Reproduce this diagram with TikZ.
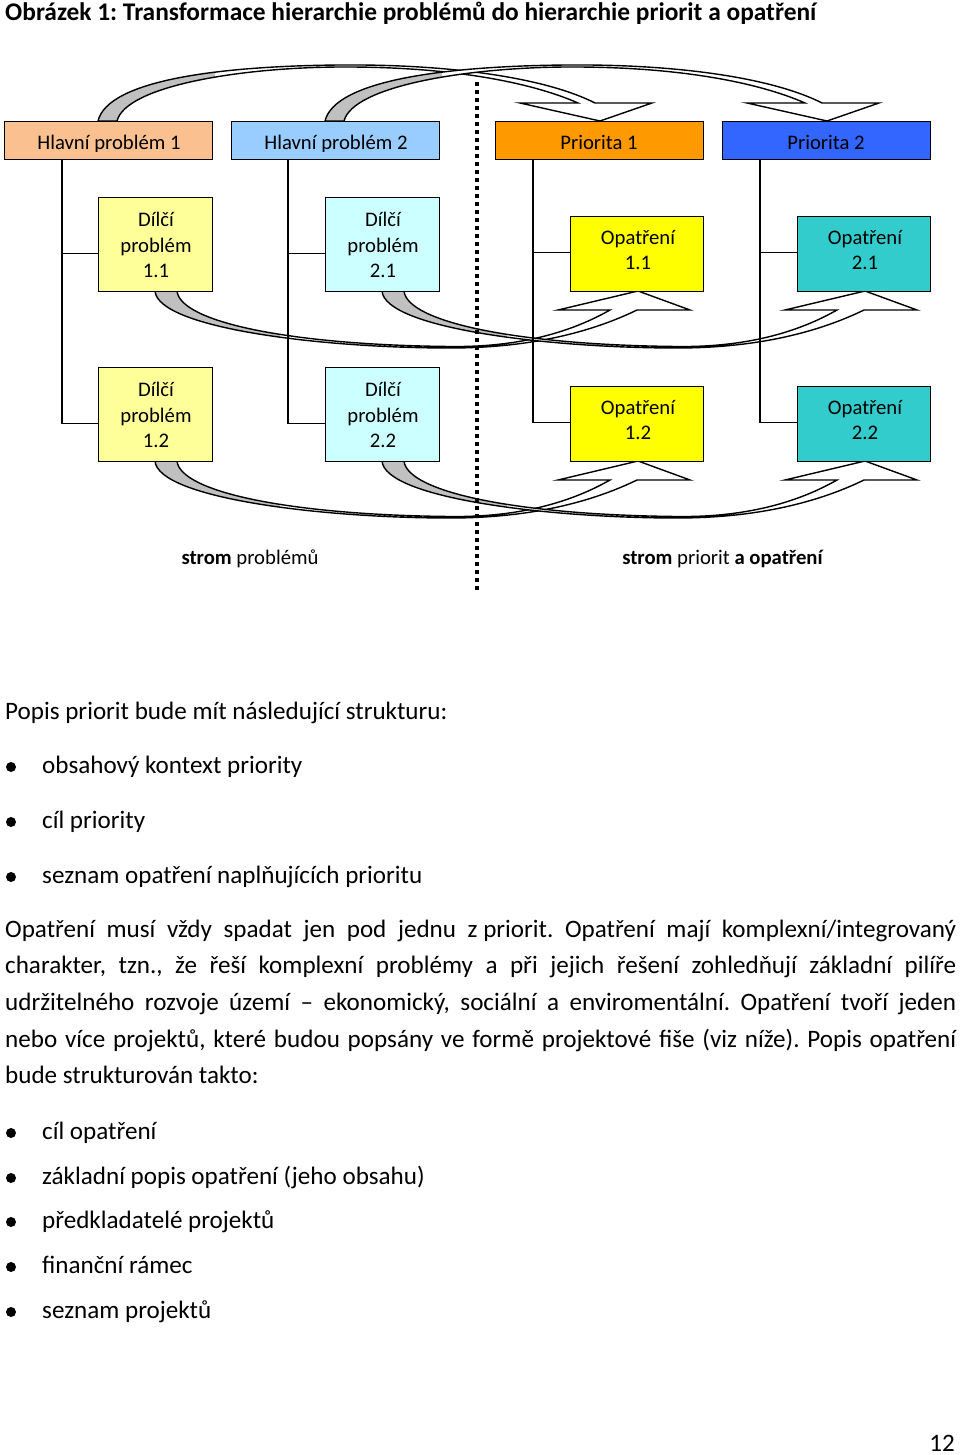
\documentclass[tikz,border=0pt]{standalone}
\usepackage{fontspec}
\setmainfont{Carlito}
\usetikzlibrary{calc}
\frenchspacing
\definecolor{peach}{HTML}{FAC08F}
\definecolor{lblue}{HTML}{99CCFF}
\definecolor{orng}{HTML}{FF9900}
\definecolor{blu}{HTML}{3366FF}
\definecolor{lyel}{HTML}{FFFF99}
\definecolor{lcyan}{HTML}{CCFFFF}
\definecolor{yel}{HTML}{FFFF00}
\definecolor{tealc}{HTML}{33CCCC}
\definecolor{ribgray}{HTML}{C0C0C0}
\newcommand\ribTop{(98,121) .. controls (108,80) and (220,66) .. (340,65) .. controls (460,64) and (550,80) .. (595,103) -- (652,103) -- (600,121) -- (520,103) -- (578,103) .. controls (530,82) and (450,66.5) .. (340,67) .. controls (240,67.5) and (126,86) .. (117,121) -- cycle}
\newcommand\ribBot{(155,291) .. controls (158,328) and (320,348) .. (450,348) .. controls (540,348) and (600,328) .. (637,310) -- (690,310) -- (638,291) -- (558,310) -- (610,310) .. controls (580,327) and (530,347.5) .. (450,346.5) .. controls (290,345) and (180,322) .. (177,291) -- cycle}
\begin{document}
\begin{tikzpicture}[x=1pt,y=-1pt,
  box/.style={draw=black, line width=1.2pt, inner sep=0pt, anchor=north west},
  conn/.style={draw=black, line width=1.3pt},
  rib/.style={draw=black, line width=1.4pt, line join=miter},
  small/.style={font=\fontsize{20.7}{25.5}\selectfont, inner sep=0pt, align=center},
  body/.style={font=\fontsize{25.1}{36.7}\selectfont, inner sep=0pt, anchor=base west},
  bulletdot/.style={circle, fill=black, inner sep=0pt, minimum size=10pt}]
\useasboundingbox (0,0) rectangle (960,1455);
\fill[white] (0,0) rectangle (960,1455);

% title
\node[body, font=\fontsize{25.4}{30}\selectfont\bfseries] (title) at (5,21) {Obrázek 1: Transformace hierarchie problémů do hierarchie priorit a opatření};

% ---- curved block arrows (top)
\foreach \dx in {0,227}{
\begin{scope}[xshift=\dx pt]
  \fill[white] \ribTop;
  \begin{scope}
    \clip (0,0) rectangle (215,125);
    \fill[ribgray] \ribTop;
  \end{scope}
  \draw[rib] \ribTop;
\end{scope}
}
% ---- curved block arrows (rows 2 and 3)
\foreach \dy in {0,-170}{
\foreach \dx in {0,227}{
\begin{scope}[xshift=\dx pt, yshift=\dy pt]
  \fill[white] \ribBot;
  \begin{scope}
    \clip (0,280) rectangle (280,360);
    \fill[ribgray] \ribBot;
  \end{scope}
  \draw[rib] \ribBot;
\end{scope}
}}

% ---- boxes
\node[box, fill=peach, minimum width=208pt, minimum height=38pt] (hp1) at (4,121) {};
\node[box, fill=lblue, minimum width=208pt, minimum height=38pt] (hp2) at (231,121) {};
\node[box, fill=orng, minimum width=208pt, minimum height=38pt] (pr1) at (495,121) {};
\node[box, fill=blu, minimum width=208pt, minimum height=38pt] (pr2) at (722,121) {};

\node[box, fill=lyel, minimum width=114pt, minimum height=94pt] (dp11) at (98,197) {};
\node[box, fill=lcyan, minimum width=114pt, minimum height=94pt] (dp21) at (325,197) {};
\node[box, fill=yel, minimum width=133pt, minimum height=75pt] (op11) at (570,216) {};
\node[box, fill=tealc, minimum width=133pt, minimum height=75pt] (op21) at (797,216) {};

\node[box, fill=lyel, minimum width=114pt, minimum height=94pt] (dp12) at (98,367) {};
\node[box, fill=lcyan, minimum width=114pt, minimum height=94pt] (dp22) at (325,367) {};
\node[box, fill=yel, minimum width=133pt, minimum height=75pt] (op12) at (570,386) {};
\node[box, fill=tealc, minimum width=133pt, minimum height=75pt] (op22) at (797,386) {};

% ---- connectors
\draw[conn] ($(hp1.south west)+(58,0)$) |- ([yshift=-9pt]dp12.west);
\draw[conn] ([yshift=-9pt]dp11.west) -- ++(-36,0);
\draw[conn] ($(hp2.south west)+(57,0)$) |- ([yshift=-9pt]dp22.west);
\draw[conn] ([yshift=-9pt]dp21.west) -- ++(-37,0);
\draw[conn] ($(pr1.south west)+(38,0)$) |- ([yshift=1.5pt]op12.west);
\draw[conn] ([yshift=1.5pt]op11.west) -- ++(-37,0);
\draw[conn] ($(pr2.south west)+(38,0)$) |- ([yshift=1.5pt]op22.west);
\draw[conn] ([yshift=1.5pt]op21.west) -- ++(-37,0);

% ---- box labels
\begin{scope}
\clip (0,121) rectangle (960,151.5);
\node[small, anchor=base] (hp1t) at (109,150) {Hlavní problém 1};
\node[small, anchor=base] (hp2t) at (336,150) {Hlavní problém 2};
\node[small, anchor=base] (pr1t) at (599,150) {Priorita 1};
\node[small, anchor=base] (pr2t) at (826,150) {Priorita 2};
\end{scope}
\node[small] (dp11t) at (156,245) {Dílčí\\problém\\1.1};
\node[small] (dp21t) at (383,245) {Dílčí\\problém\\2.1};
\node[small] (dp12t) at (156,415) {Dílčí\\problém\\1.2};
\node[small] (dp22t) at (383,415) {Dílčí\\problém\\2.2};
\node[small] (op11t) at (638,250) {Opatření\\1.1};
\node[small] (op21t) at (865,250) {Opatření\\2.1};
\node[small] (op12t) at (638,420) {Opatření\\1.2};
\node[small] (op22t) at (865,420) {Opatření\\2.2};

\node[small, anchor=base] (lab1) at (250,564) {\textbf{strom} problémů};
\node[small, anchor=base] (lab2) at (723,564) {\textbf{strom} priorit \textbf{a opatření}};

% ---- dotted divider
\coordinate (dtop) at (476.5,82);
\coordinate (dbot) at (476.5,592);
\draw[line width=4pt, dash pattern=on 4pt off 4pt] (dtop) -- (dbot);

% ---- text
\node[body] (t1) at (5,719) {Popis priorit bude mít následující strukturu:};
\node[bulletdot] (b1) at (11,767) {};
\node[body] (i1) at (42,773) {obsahový kontext priority};
\node[bulletdot] (b2) at (11,822) {};
\node[body] (i2) at (42,828) {cíl priority};
\node[bulletdot] (b3) at (11,877) {};
\node[body] (i3) at (42,883) {seznam opatření naplňujících prioritu};

\node[body] (p1) at (5,937) {\hbox to 951pt{Opatření musí vždy spadat jen pod jednu \mbox{z priorit.} Opatření mají komplexní/integrovaný}};
\node[body] (p2) at (5,973.7) {\hbox to 951pt{charakter, tzn., že řeší komplexní problémy a při jejich řešení zohledňují základní pilíře}};
\node[body] (p3) at (5,1010.4) {\hbox to 951pt{udržitelného rozvoje území – ekonomický, sociální a enviromentální. Opatření tvoří jeden}};
\node[body] (p4) at (5,1047.1) {\hbox to 951pt{nebo více projektů, které budou popsány ve formě projektové fiše (viz níže). Popis opatření}};
\node[body] (p5) at (5,1083.8) {bude strukturován takto:};

\node[bulletdot] (c1) at (11,1133) {};
\node[body] (j1) at (42,1139) {cíl opatření};
\node[bulletdot] (c2) at (11,1178) {};
\node[body] (j2) at (42,1184) {základní popis opatření (jeho obsahu)};
\node[bulletdot] (c3) at (11,1222) {};
\node[body] (j3) at (42,1228) {předkladatelé projektů};
\node[bulletdot] (c4) at (11,1267) {};
\node[body] (j4) at (42,1273) {finanční rámec};
\node[bulletdot] (c5) at (11,1312) {};
\node[body] (j5) at (42,1318) {seznam projektů};

\node[body, anchor=base east] (pg) at (955,1451) {12};
\end{tikzpicture}
\end{document}
